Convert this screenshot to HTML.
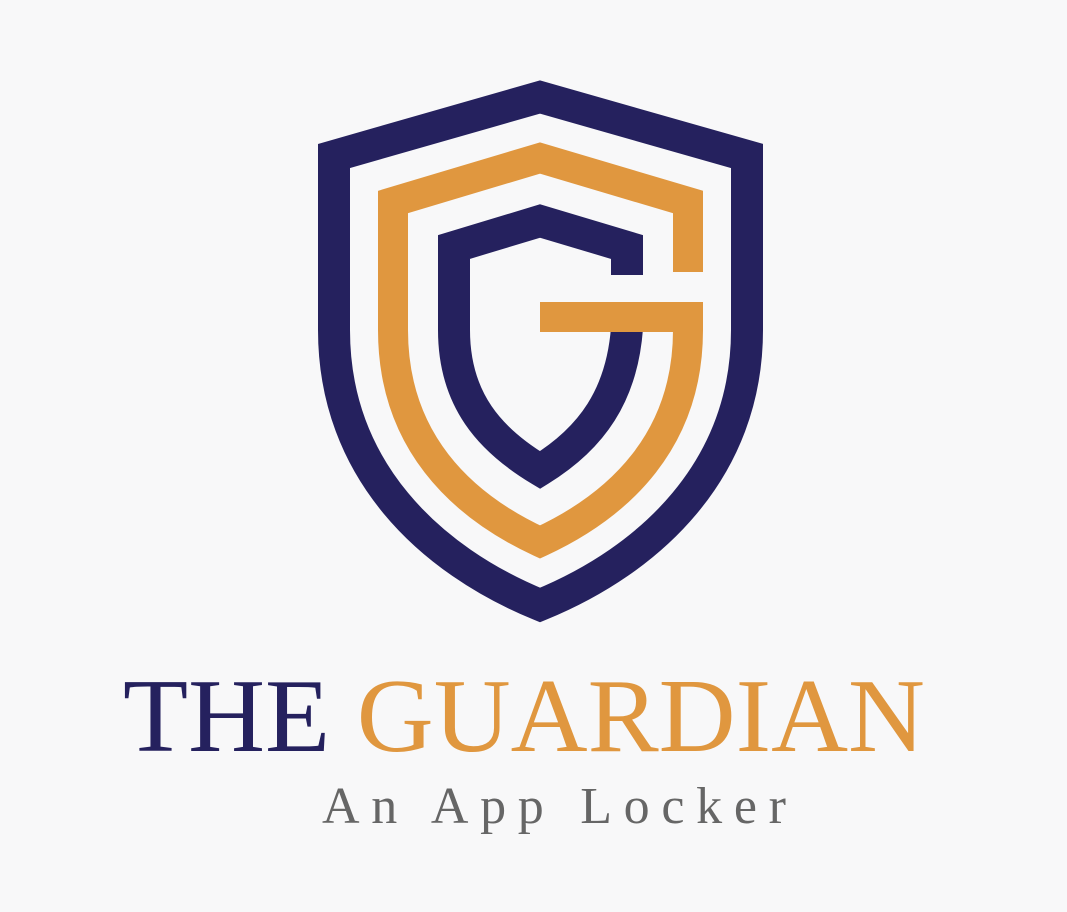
<!DOCTYPE html>
<html><head><meta charset="utf-8"><style>
html,body{margin:0;padding:0;background:#f8f8f9;}
svg{display:block;}
</style></head><body>
<svg width="1067" height="912" viewBox="0 0 1067 912">
<rect width="1067" height="912" fill="#f8f8f9"/>
<path d="M540,97 L334,156 L334,330 C334,470 430,560 540,605 C650,560 747,470 747,330 L747,156 Z" fill="none" stroke="#25215e" stroke-width="32" stroke-linejoin="miter"/>
<path d="M627,275 L627,247 L540,221 L454,247 L454,330 C454,400 490,440 540,470 C592,438 622,395 627,328" fill="none" stroke="#25215e" stroke-width="32" stroke-linejoin="miter"/>
<path d="M688,272 L688,202 L540,158 L393,202 L393,330 C393,440 460,505 540,542 C620,505 688,440 688,330 L688,317 L540,317" fill="none" stroke="#e0973f" stroke-width="30" stroke-linejoin="miter"/>
<text x="123" y="751" font-family="'Liberation Serif', serif" font-size="105" textLength="802" lengthAdjust="spacingAndGlyphs"><tspan fill="#25215e">THE </tspan><tspan fill="#e0973f">GUARDIAN</tspan></text>
<text x="322" y="823" font-family="'Liberation Serif', serif" font-size="52" fill="#666" textLength="464" lengthAdjust="spacing">An App Locker</text>
</svg>
</body></html>
